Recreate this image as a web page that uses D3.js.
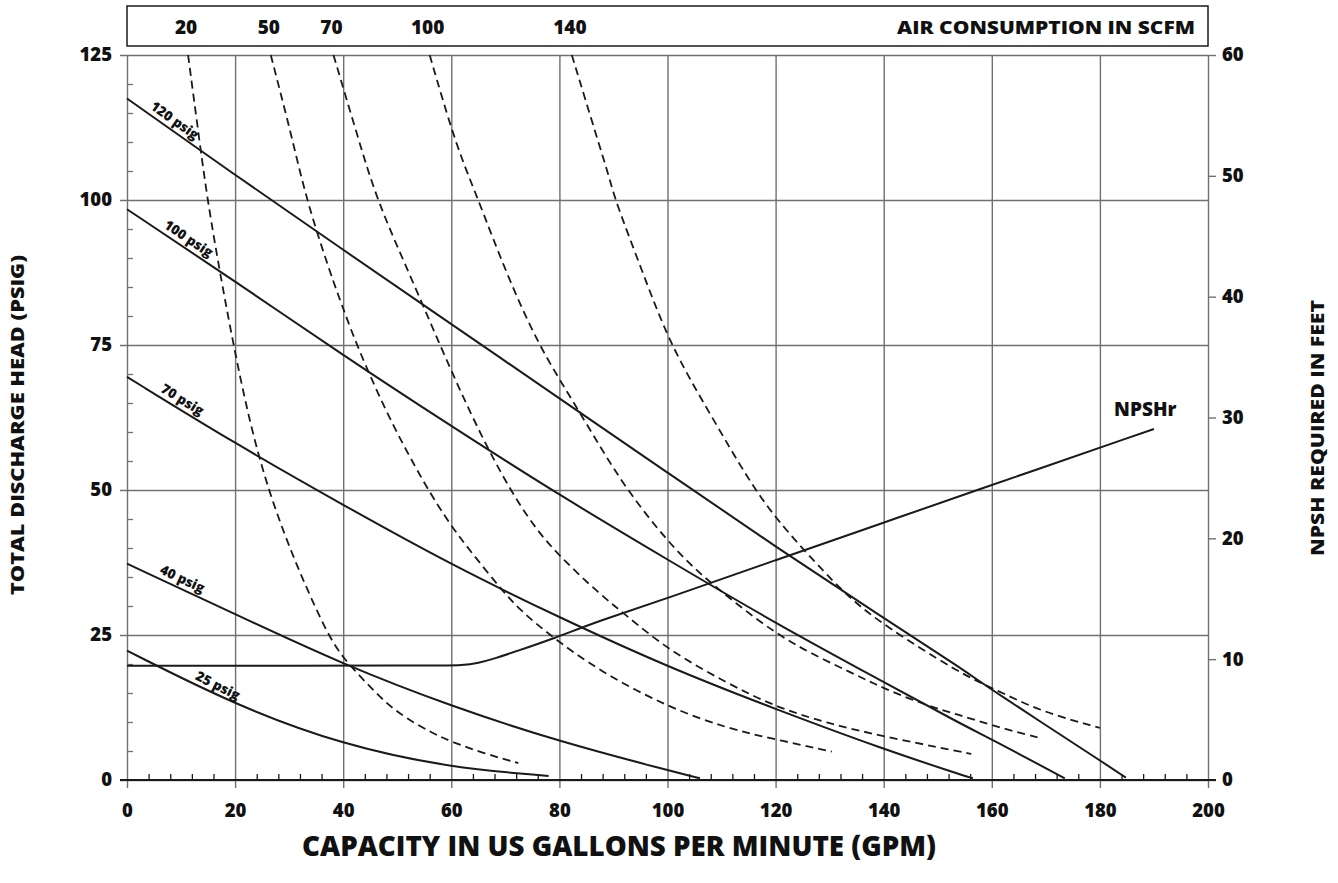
<!DOCTYPE html>
<html>
<head>
<meta charset="utf-8">
<script src="https://cdn.jsdelivr.net/npm/d3@7"></script>
<style>
body { margin: 0; background: #fff; }
text { font-family: "Open Sans", sans-serif; font-weight: 800; fill: #111; }
</style>
</head>
<body>
<script>
// tick labels
var xTicks = [0, 20, 40, 60, 80, 100, 120, 140, 160, 180, 200];
var yTicks = [0, 25, 50, 75, 100, 125];
var npshTicks = [0, 10, 20, 30, 40, 50, 60];

// pump curves: [capacity gpm, head psig]
var pressureNames = ["120 psig", "100 psig", "70 psig", "40 psig", "25 psig"];
var pressureLabelAt = [7.8, 10.4, 9.3, 9.5, 16];
var psig120 = [[0,117.5],[20,104.3],[40,91.4],[60,78.6],[80,65.8],[100,53],[120,40.2],[140,27.9],[154,19.5],[160,15.5],[180,3.4],[184.8,0.4]];
var psig100 = [[0,98.4],[20,86],[40,73.2],[60,61],[80,49.1],[100,38],[120,27],[140,16.9],[154,9.8],[160,7],[173.5,0.3]];
var psig70 = [[0,69.5],[20,58],[40,47.4],[60,37.1],[80,28],[100,19.5],[120,12.2],[140,5.3],[154,1.0],[156.5,0.3]];
var psig40 = [[0,37.3],[20,28.6],[40,19.9],[60,12.7],[80,6.6],[100,1.7],[106,0.3]];
var psig25 = [[0,22.3],[20,12.9],[40,6.0],[60,2.1],[78,0.7]];

// air consumption curves (dashed)
var scfmNames = ["20", "50", "70", "100", "140"];
var scfm20 = [[11.3,125],[13.5,109.5],[14.9,100],[17.2,87.4],[19.7,75],[22.6,62],[26.1,50],[30.3,39.5],[33.5,32.5],[37.2,25],[40,21],[44.3,16.7],[48,13.2],[51.7,10.6],[56.7,8],[60,6.6],[66,4.6],[72.4,2.9]];
var scfm50 = [[26.6,125],[30.5,110.9],[33.2,100],[37.6,87.4],[40.1,81],[42.5,75],[48,63.2],[55,51],[60,43.7],[64.1,38.8],[69.3,32.8],[72.7,29.3],[78.3,24.9],[87.5,18.7],[100,12.6],[111,8.9],[120,7.0],[130.4,4.9]];
var scfm70 = [[38.2,125],[42.5,111.5],[46.2,100],[52.2,87.4],[57.9,75],[63.5,63.2],[69.6,52],[75.2,43.7],[80.1,38.5],[87.5,32],[92.5,28.3],[100,22.5],[111,16.7],[120,12.6],[129.5,9.8],[140,7.5],[154.1,4.9],[156.2,4.5]];
var scfm100 = [[56,125],[60.4,110.9],[63.5,103.4],[65,100],[70.2,87.3],[76.1,75],[82,66.1],[87.5,57.5],[92.5,50],[100,41.1],[106,35.5],[113,30.2],[120,25.3],[126.5,21.8],[135.6,17.8],[140,15.8],[148,12.8],[154.1,11.2],[160,9.4],[169.1,7.2]];
var scfm140 = [[82.3,125],[86.9,110.9],[89.4,103.4],[90.3,100],[95.5,87.3],[100.5,75],[107.7,63.4],[115,51.7],[120.2,44.8],[129.5,35.3],[134.2,31],[140,26.7],[154.1,18.4],[160,15.9],[169,11.8],[180,9.0]];

// NPSH required: [capacity gpm, feet]
var npshr = [[0,9.46],[58,9.46],[62,9.5],[65,9.68],[68,10.05],[72,10.65],[78.9,11.7],[87.5,13.2],[100,15.04],[120,18.2],[140,21.3],[154.1,23.5],[190,29.05]];

var pressureCurves = [psig120, psig100, psig70, psig40, psig25];
var scfmCurves = [scfm20, scfm50, scfm70, scfm100, scfm140];

var margin = {top: 55, right: 130, bottom: 103, left: 127};
var W = 1338, H = 883;
var width = W - margin.left - margin.right;   // 1081
var height = H - margin.top - margin.bottom;  // 725

var x = d3.scaleLinear().domain([0, 200]).range([0, width]);
var y = d3.scaleLinear().domain([0, 125]).range([height, 0]);
var yR = d3.scaleLinear().domain([0, 60]).range([height, 0]);

var svg = d3.select("body").append("svg")
    .attr("width", W)
    .attr("height", H);

var g = svg.append("g")
    .attr("transform", "translate(" + margin.left + "," + margin.top + ")");

var gridColor = "#707070";
var ink = "#1a1a1a";

// vertical grid + bottom tick labels
var xAxis = g.append("g")
    .attr("transform", "translate(0," + (height + 8) + ")")
    .call(d3.axisBottom(x).tickValues(xTicks).tickSize(-(height + 8)).tickPadding(16))
xAxis.select(".domain").remove();
xAxis.selectAll("line").attr("stroke", gridColor).attr("stroke-width", 1.4);
xAxis.selectAll("text").attr("font-size", 18.5).attr("fill", "#111");

// x minor ticks (every 4 gpm)
var xMinor = d3.range(4, 200, 4).filter(function(v) { return v % 20 != 0; });
var xMinorAxis = g.append("g")
    .attr("transform", "translate(0," + height + ")")
    .call(d3.axisBottom(x).tickValues(xMinor).tickSize(-6).tickFormat(""));
xMinorAxis.select(".domain").remove();
xMinorAxis.selectAll("line").attr("stroke", ink).attr("stroke-width", 1.3);

// horizontal grid + left tick labels
var yAxis = g.append("g")
    .attr("transform", "translate(-7,0)")
    .call(d3.axisLeft(y).tickValues(yTicks).tickSize(-(width + 7)).tickPadding(8));
yAxis.select(".domain").remove();
yAxis.selectAll("line").attr("stroke", gridColor).attr("stroke-width", 1.4);
yAxis.selectAll("text").attr("font-size", 18.5).attr("fill", "#111");

// y minor ticks (every 5 psig)
var yMinor = d3.range(5, 125, 5).filter(function(v) { return v % 25 != 0; });
var yMinorAxis = g.append("g")
    .call(d3.axisLeft(y).tickValues(yMinor).tickSize(-6).tickFormat(""));
yMinorAxis.select(".domain").remove();
yMinorAxis.selectAll("line").attr("stroke", gridColor).attr("stroke-width", 1.3);

// right axis (NPSH feet)
var rAxis = g.append("g")
    .attr("transform", "translate(" + width + ",0)")
    .call(d3.axisRight(yR).tickValues(npshTicks).tickSize(8).tickPadding(6));
rAxis.select(".domain").remove();
rAxis.selectAll("line").attr("stroke", gridColor).attr("stroke-width", 1.4);
rAxis.selectAll("text").attr("font-size", 18.5).attr("fill", "#111");

// bottom axis line
g.append("line")
    .attr("x1", -7).attr("x2", width + 8)
    .attr("y1", y(0)).attr("y2", y(0))
    .attr("stroke", ink).attr("stroke-width", 1.8);

var line = d3.line()
    .x(function(d) { return x(d[0]); })
    .y(function(d) { return y(d[1]); })
    .curve(d3.curveBasis);

var lineR = d3.line()
    .x(function(d) { return x(d[0]); })
    .y(function(d) { return yR(d[1]); })
    .curve(d3.curveBasis);

// dashed air consumption curves
g.selectAll(".scfm")
    .data(scfmCurves)
    .enter().append("path")
    .attr("class", "scfm")
    .attr("d", line)
    .attr("fill", "none")
    .attr("stroke", ink)
    .attr("stroke-width", 1.8)
    .attr("stroke-dasharray", "8,5");

// solid pressure curves
g.selectAll(".psig")
    .data(pressureCurves)
    .enter().append("path")
    .attr("class", "psig")
    .attr("d", line)
    .attr("fill", "none")
    .attr("stroke", ink)
    .attr("stroke-width", 2);

// NPSHr curve
g.append("path")
    .datum(npshr)
    .attr("d", lineR)
    .attr("fill", "none")
    .attr("stroke", ink)
    .attr("stroke-width", 2);

function headAt(data, gpm) {
    for (var i = 1; i < data.length; i++) {
        if (gpm <= data[i][0]) {
            var t = (gpm - data[i-1][0]) / (data[i][0] - data[i-1][0]);
            return data[i-1][1] + t * (data[i][1] - data[i-1][1]);
        }
    }
    return data[data.length - 1][1];
}

// rotated psig labels along each curve
pressureCurves.forEach(function(data, i) {
    var gpm = pressureLabelAt[i];
    var x0 = x(gpm - 2), y0 = y(headAt(data, gpm - 2));
    var x1 = x(gpm + 2), y1 = y(headAt(data, gpm + 2));
    var ang = Math.atan2(y1 - y0, x1 - x0) * 180 / Math.PI;
    g.append("text")
        .attr("transform", "translate(" + x(gpm) + "," + y(headAt(data, gpm)) + ") rotate(" + ang + ")")
        .attr("text-anchor", "middle")
        .attr("dy", -5)
        .attr("font-size", 13.5)
        .text(pressureNames[i]);
});

g.append("text")
    .attr("x", x(189.5) - 6)
    .attr("y", yR(29.05) - 13)
    .attr("text-anchor", "middle")
    .attr("font-size", 19)
    .text("NPSHr");

// air consumption header box
svg.append("rect")
    .attr("x", margin.left).attr("y", 6)
    .attr("width", width).attr("height", 40)
    .attr("fill", "none")
    .attr("stroke", ink)
    .attr("stroke-width", 1.5);

svg.selectAll(".scfmlabel")
    .data(scfmCurves)
    .enter().append("text")
    .attr("class", "scfmlabel")
    .attr("x", function(d) { return margin.left + x(d[0][0]) - 2; })
    .attr("y", 34)
    .attr("text-anchor", "middle")
    .attr("font-size", 19)
    .text(function(d, i) { return scfmNames[i]; });

svg.append("text")
    .attr("x", 1195).attr("y", 34)
    .attr("text-anchor", "end")
    .attr("font-size", 18)
    .attr("textLength", 298)
    .attr("lengthAdjust", "spacingAndGlyphs")
    .text("AIR CONSUMPTION IN SCFM");

// axis titles
svg.append("text")
    .attr("transform", "translate(24,425) rotate(-90)")
    .attr("text-anchor", "middle")
    .attr("font-size", 17)
    .attr("textLength", 340)
    .attr("lengthAdjust", "spacingAndGlyphs")
    .text("TOTAL DISCHARGE HEAD (PSIG)");

svg.append("text")
    .attr("transform", "translate(1324,428) rotate(-90)")
    .attr("text-anchor", "middle")
    .attr("font-size", 17)
    .attr("textLength", 256)
    .attr("lengthAdjust", "spacingAndGlyphs")
    .text("NPSH REQUIRED IN FEET");

svg.append("text")
    .attr("x", 619).attr("y", 856)
    .attr("text-anchor", "middle")
    .attr("font-size", 28)
    .attr("textLength", 634)
    .attr("lengthAdjust", "spacingAndGlyphs")
    .text("CAPACITY IN US GALLONS PER MINUTE (GPM)");
</script>
</body>
</html>
